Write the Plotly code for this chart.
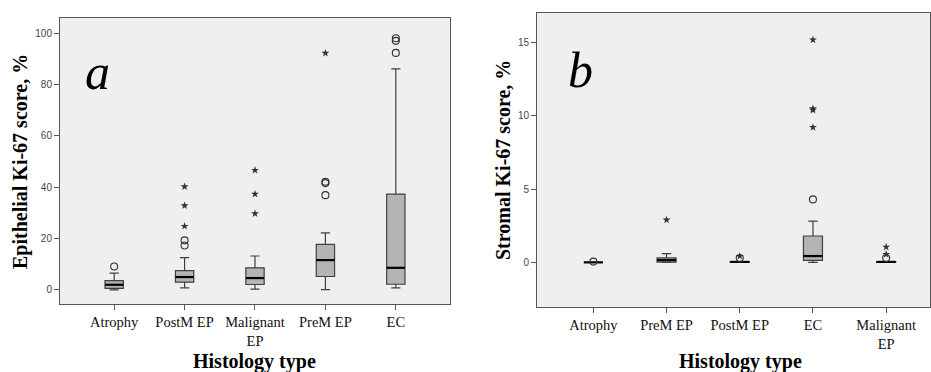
import plotly.graph_objects as go

# ---------------- Panel a data (Epithelial Ki-67) ----------------
a_categories = ["Atrophy", "PostM EP", "Malignant<br>EP", "PreM EP", "EC"]
a_q1 = [0.6, 3.0, 2.1, 5.2, 2.2]
a_median = [2.0, 5.0, 4.6, 11.6, 8.6]
a_q3 = [3.6, 7.5, 8.6, 17.7, 37.3]
a_low = [0.0, 0.8, 0.3, 0.1, 0.8]
a_high = [6.5, 12.6, 13.2, 22.2, 86.1]
a_circles = [[9.1], [17.3, 19.3], [], [36.9, 41.6, 42.1], [92.3, 97.0, 98.0]]
a_stars = [[], [24.8, 32.8, 40.2], [29.7, 37.3, 46.6], [92.2], []]

# ---------------- Panel b data (Stromal Ki-67) ----------------
b_categories = ["Atrophy", "PreM EP", "PostM EP", "EC", "Malignant<br>EP"]
b_q1 = [0.0, 0.02, 0.0, 0.14, 0.0]
b_median = [0.0, 0.15, 0.03, 0.43, 0.03]
b_q3 = [0.0, 0.31, 0.06, 1.8, 0.06]
b_low = [0.0, 0.0, 0.0, 0.0, 0.0]
b_high = [0.0, 0.6, 0.06, 2.82, 0.06]
b_circles = [[0.05], [], [0.3], [4.3], [0.3]]
b_stars = [[], [2.9], [0.42], [9.22, 10.4, 10.5, 15.2], [0.55, 1.05]]

BOX_W = 0.26
FILL = "#b4b4b4"
EDGE = "#404040"
MARK = "#333333"

fig = go.Figure()


def add_panel(cats, q1, med, q3, lo, hi, circles, stars, xa, ya):
    xs = list(range(len(cats)))
    fig.add_trace(go.Box(
        x=xs, q1=q1, median=med, q3=q3, lowerfence=lo, upperfence=hi,
        width=BOX_W, whiskerwidth=0.5, fillcolor=FILL,
        line=dict(color=EDGE, width=1.2), boxpoints=False,
        xaxis=xa, yaxis=ya, showlegend=False, hoverinfo="skip"))
    # thicker median lines
    for i, m in enumerate(med):
        fig.add_trace(go.Scatter(
            x=[i - BOX_W / 2, i + BOX_W / 2], y=[m, m], mode="lines",
            line=dict(color="black", width=2.2), xaxis=xa, yaxis=ya,
            showlegend=False, hoverinfo="skip"))
    cx, cy, sx, sy = [], [], [], []
    for i, vals in enumerate(circles):
        cx += [i] * len(vals)
        cy += vals
    for i, vals in enumerate(stars):
        sx += [i] * len(vals)
        sy += vals
    fig.add_trace(go.Scatter(
        x=cx, y=cy, mode="markers",
        marker=dict(symbol="circle-open", size=7, color=MARK, line=dict(width=1.1)),
        xaxis=xa, yaxis=ya, showlegend=False, hoverinfo="skip"))
    fig.add_trace(go.Scatter(
        x=sx, y=sy, mode="markers",
        marker=dict(symbol="star", size=6, color=MARK),
        xaxis=xa, yaxis=ya, showlegend=False, hoverinfo="skip"))


add_panel(a_categories, a_q1, a_median, a_q3, a_low, a_high, a_circles, a_stars, "x", "y")
add_panel(b_categories, b_q1, b_median, b_q3, b_low, b_high, b_circles, b_stars, "x2", "y2")

tickfont_y = dict(family="Liberation Sans, Arial", size=10, color="#444444")
tickfont_x = dict(family="Liberation Serif, Times New Roman, serif", size=14.5, color="#111111")
axis_common = dict(showline=True, linecolor="#555555", linewidth=1, mirror=True,
                   showgrid=False, zeroline=False, ticks="outside", ticklen=5,
                   tickcolor="#555555")

fig.update_layout(
    width=931, height=372,
    margin=dict(l=0, r=0, t=0, b=0),
    paper_bgcolor="white",
    plot_bgcolor="#efefef",
    xaxis=dict(domain=[0.0644, 0.4834], range=[-0.77, 4.77],
               tickvals=list(range(len(a_categories))), ticktext=a_categories,
               tickfont=tickfont_x, anchor="y", **axis_common),
    yaxis=dict(domain=[0.1828, 0.9516], range=[-5.5, 105.9],
               tickvals=[0, 20, 40, 60, 80, 100], tickfont=tickfont_y,
               anchor="x", **axis_common),
    xaxis2=dict(domain=[0.5768, 0.999], range=[-0.77, 4.6],
                tickvals=list(range(len(b_categories))), ticktext=b_categories,
                tickfont=tickfont_x, anchor="y2", **axis_common),
    yaxis2=dict(domain=[0.1747, 0.965], range=[-3.05, 17.03],
                tickvals=[0, 5, 10, 15], tickfont=tickfont_y,
                anchor="x2", **axis_common),
)

serif = "Liberation Serif, Times New Roman, serif"
annots = [
    dict(text="<i>a</i>", x=97 / 931, y=1 - 72 / 372, font=dict(family=serif, size=50, color="black")),
    dict(text="<i>b</i>", x=580 / 931, y=1 - 70 / 372, font=dict(family=serif, size=50, color="black")),
    dict(text="<b>Epithelial Ki-67 score, %</b>", x=20 / 931, y=1 - 162 / 372, textangle=-90,
         font=dict(family=serif, size=20, color="black")),
    dict(text="<b>Stromal Ki-67 score, %</b>", x=503 / 931, y=1 - 160 / 372, textangle=-90,
         font=dict(family=serif, size=20, color="black")),
    dict(text="<b>Histology type</b>", x=255 / 931, y=1 - 361 / 372,
         font=dict(family=serif, size=20, color="black")),
    dict(text="<b>Histology type</b>", x=740 / 931, y=1 - 361 / 372,
         font=dict(family=serif, size=20, color="black")),
]
for an in annots:
    an.update(xref="paper", yref="paper", showarrow=False, xanchor="center", yanchor="middle")
    fig.add_annotation(**an)

fig.write_html(
    "out.html",
    config={"displayModeBar": False},
    post_script="document.body.style.margin='0';document.documentElement.style.overflow='hidden';",
)
